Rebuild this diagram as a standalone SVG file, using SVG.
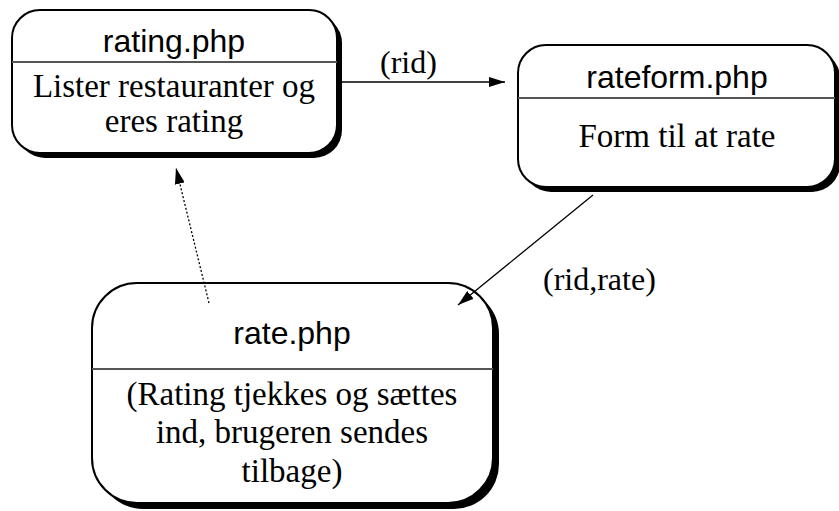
<svg xmlns="http://www.w3.org/2000/svg" width="839" height="511" viewBox="0 0 839 511">
<style>
.shadow{fill:#000}
.box{fill:#fff;stroke:#000;stroke-width:2}
.div{stroke:#555;stroke-width:2}
.title{font-family:"Liberation Sans",Arial,sans-serif;font-size:32px;text-anchor:middle;fill:#000}
.body{font-family:"Liberation Serif","Times New Roman",serif;font-size:33px;text-anchor:middle;fill:#000}
.lbl{font-family:"Liberation Serif","Times New Roman",serif;font-size:32px;fill:#000}
.edge{stroke:#000;stroke-width:1.3;fill:none}
</style>
<defs>
<marker id="ah" viewBox="0 0 16 10" refX="16" refY="5" markerWidth="16" markerHeight="10" markerUnits="userSpaceOnUse" orient="auto">
<path d="M0,0 L16,5 L0,10 Z" fill="#000"/>
</marker>
</defs>
<g id="rating">
<rect class="shadow" x="17" y="15" width="325" height="143" rx="28"/>
<rect class="box" x="12" y="10" width="325" height="143" rx="28"/>
<line class="div" x1="12" y1="62" x2="337" y2="62"/>
<text class="title" x="174" y="52">rating.php</text>
<text class="body" x="174" y="97">Lister restauranter og</text>
<text class="body" x="174" y="132">eres rating</text>
</g>
<g id="rateform">
<rect class="shadow" x="523" y="50" width="317" height="142" rx="28"/>
<rect class="box" x="518" y="45" width="317" height="142" rx="28"/>
<line class="div" x1="518" y1="98" x2="835" y2="98"/>
<text class="title" x="677" y="88">rateform.php</text>
<text class="body" x="677" y="147">Form til at rate</text>
</g>
<g id="rate">
<rect class="shadow" x="98" y="289" width="401" height="220" rx="45"/>
<rect class="box" x="92" y="283" width="401" height="220" rx="45"/>
<line class="div" x1="92" y1="369" x2="493" y2="369"/>
<text class="title" x="292" y="344">rate.php</text>
<text class="body" x="292" y="405">(Rating tjekkes og sættes</text>
<text class="body" x="292" y="443">ind, brugeren sendes</text>
<text class="body" x="292" y="482">tilbage)</text>
</g>
<g id="connectors">
<line class="edge" x1="339" y1="82" x2="505" y2="82" marker-end="url(#ah)"/>
<text class="lbl" x="380" y="73">(rid)</text>
<line class="edge" x1="593" y1="195" x2="458" y2="305" marker-end="url(#ah)"/>
<text class="lbl" x="543" y="290">(rid,rate)</text>
<line class="edge" x1="209" y1="303" x2="176" y2="168" stroke-dasharray="2,2" marker-end="url(#ah)"/>
</g>
</svg>
